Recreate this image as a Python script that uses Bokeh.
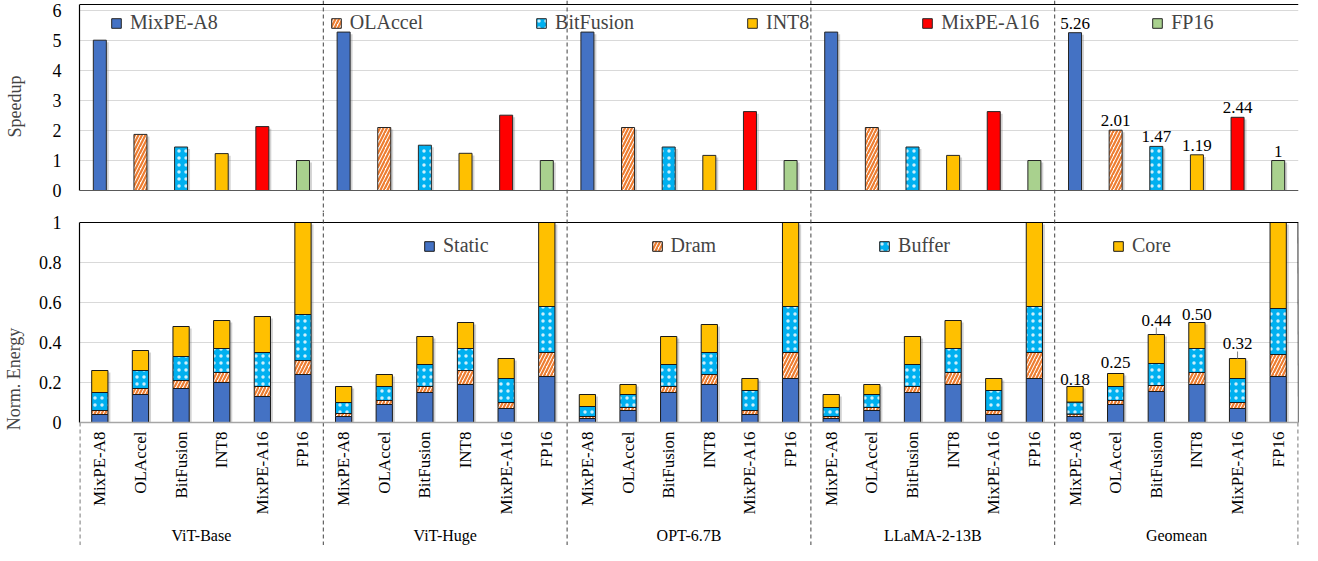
import numpy as np
from bokeh.plotting import figure
from bokeh.models import (FactorRange, Range1d, Span, FixedTicker, Legend, LegendItem,
                          ColumnDataSource)
from bokeh.layouts import column
from bokeh.transform import dodge
from bokeh.embed import file_html
from bokeh.resources import INLINE
from bokeh.core.properties import value

# ---------------- data ----------------
groups = ["ViT-Base", "ViT-Huge", "OPT-6.7B", "LLaMA-2-13B", "Geomean"]
configs = ["MixPE-A8", "OLAccel", "BitFusion", "INT8", "MixPE-A16", "FP16"]

# speedup, one value per group
speedup_mixpe_a8 = [5.01, 5.28, 5.28, 5.28, 5.26]
speedup_olaccel = [1.87, 2.10, 2.10, 2.10, 2.01]
speedup_bitfusion = [1.45, 1.51, 1.45, 1.45, 1.47]
speedup_int8 = [1.23, 1.24, 1.17, 1.17, 1.19]
speedup_mixpe_a16 = [2.13, 2.51, 2.63, 2.63, 2.44]
speedup_fp16 = [1.0, 1.0, 1.0, 1.0, 1.0]
geomean_speedup_labels = ["5.26", "2.01", "1.47", "1.19", "2.44", "1"]

# normalized energy components, group-major (6 configs per group)
energy_static = [0.04, 0.14, 0.17, 0.20, 0.13, 0.24,
                 0.03, 0.09, 0.15, 0.19, 0.07, 0.23,
                 0.02, 0.06, 0.15, 0.19, 0.04, 0.22,
                 0.02, 0.06, 0.15, 0.19, 0.04, 0.22,
                 0.03, 0.09, 0.155, 0.19, 0.07, 0.23]
energy_dram = [0.02, 0.03, 0.04, 0.05, 0.05, 0.07,
               0.015, 0.02, 0.03, 0.07, 0.03, 0.12,
               0.01, 0.015, 0.03, 0.05, 0.02, 0.13,
               0.01, 0.015, 0.03, 0.06, 0.02, 0.13,
               0.012, 0.02, 0.03, 0.06, 0.03, 0.11]
energy_buffer = [0.09, 0.09, 0.12, 0.12, 0.17, 0.23,
                 0.055, 0.07, 0.11, 0.11, 0.12, 0.23,
                 0.05, 0.065, 0.11, 0.11, 0.10, 0.23,
                 0.045, 0.065, 0.11, 0.12, 0.10, 0.23,
                 0.06, 0.07, 0.11, 0.12, 0.12, 0.23]
energy_core = [0.11, 0.10, 0.15, 0.14, 0.18, 0.46,
               0.08, 0.06, 0.14, 0.13, 0.10, 0.42,
               0.06, 0.05, 0.14, 0.14, 0.06, 0.42,
               0.065, 0.05, 0.14, 0.14, 0.06, 0.42,
               0.078, 0.065, 0.145, 0.13, 0.10, 0.43]
geomean_energy_labels = ["0.18", "0.25", "0.44", "0.50", "0.32"]
components = ["Static", "Dram", "Buffer", "Core"]

# ---------------- styles ----------------
FONT = "Liberation Serif"
BLUE, ORANGE, CYAN, GOLD, RED, GREEN = "#4472C4", "#ED7D31", "#00B0F0", "#FFC000", "#FF0000", "#A9D18E"
hatch_style = dict(hatch_pattern="/", hatch_color=ORANGE, hatch_weight=2.2, hatch_scale=7)
dot_style = dict(hatch_pattern=".", hatch_color="white", hatch_weight=0.3, hatch_scale=7,
                 hatch_alpha=0.8)
cfg_styles = [
    dict(fill_color=BLUE),
    dict(fill_color="white", **hatch_style),
    dict(fill_color=CYAN, **dot_style),
    dict(fill_color=GOLD),
    dict(fill_color=RED),
    dict(fill_color=GREEN),
]
comp_styles = [
    dict(fill_color=BLUE),
    dict(fill_color="white", **hatch_style),
    dict(fill_color=CYAN, **dot_style),
    dict(fill_color=GOLD),
]
SHADOW = dict(fill_color="#7F7F7F", fill_alpha=0.35, line_color=None)
energy_label_lift = [-2, -6, -9, -3, -10]
leader_configs = ["BitFusion", "MixPE-A16"]

factors = [(g, c) for g in groups for c in configs]
xr = FactorRange(factors=factors, factor_padding=0, group_padding=0, subgroup_padding=0,
                 range_padding=0)

W = 1300
H_TOP, H_BOT = 212, 333
common = dict(x_range=xr, width=W, output_backend="svg", toolbar_location=None,
              x_axis_location=None, min_border=0, min_border_left=70, min_border_right=2)


def style_axis(p, ticks, bounds, label, standoff):
    ax = p.yaxis[0]
    ax.ticker = FixedTicker(ticks=ticks)
    ax.bounds = bounds
    ax.axis_label = label
    ax.axis_label_text_font = FONT
    ax.axis_label_text_font_size = "18px"
    ax.axis_label_text_font_style = "normal"
    ax.axis_label_standoff = standoff
    ax.major_label_text_font = FONT
    ax.major_label_text_font_size = "18px"
    ax.major_label_text_color = "black"
    ax.major_tick_line_color = None
    ax.minor_tick_line_color = None
    ax.major_label_standoff = 12
    ax.axis_line_color = "black"
    ax.axis_line_width = 1.2
    p.ygrid.ticker = FixedTicker(ticks=ticks)
    p.ygrid.grid_line_color = "#D9D9D9"
    p.ygrid.grid_line_width = 1.2
    p.xgrid.visible = False
    p.outline_line_color = None


def separators(p):
    for k in range(1, len(groups)):
        p.add_layout(Span(location=k * len(configs), dimension="height", line_color="#404040",
                          line_dash="4 3", line_width=1))


# ---------------- top: speedup ----------------
pA = figure(height=H_TOP, y_range=Range1d(-0.733, 6.333), **common)
style_axis(pA, [0, 1, 2, 3, 4, 5, 6], (0, 6.2), "Speedup", 25)
separators(pA)
pA.add_layout(Span(location=6.2, dimension="width", line_color="black", line_width=1.2))

speedups = [speedup_mixpe_a8, speedup_olaccel, speedup_bitfusion, speedup_int8,
            speedup_mixpe_a16, speedup_fp16]
items_a = []
for c, vals, st in zip(configs, speedups, cfg_styles):
    src = ColumnDataSource(dict(x=[(g, c) for g in groups], top=vals,
                                stop=[v - 0.07 for v in vals]))
    pA.vbar(x=dodge("x", 0.06, range=xr), top="stop", bottom=0, width=0.32, source=src,
            **SHADOW)
    r = pA.vbar(x="x", top="top", bottom=0, width=0.32, source=src,
                line_color="#262626", line_width=1, **st)
    items_a.append(LegendItem(label=c, renderers=[r]))
pA.add_layout(Span(location=0, dimension="width", line_color="#595959", line_width=1.2))

gsrc = ColumnDataSource(dict(x=[("Geomean", c) for c in configs],
                             y=[v[-1] for v in speedups], t=geomean_speedup_labels))
pA.text(x="x", y="y", text="t", source=gsrc, text_align="center", text_baseline="bottom",
        y_offset=-4, text_font=value(FONT), text_font_size="17px", text_color="black")

legA = Legend(items=items_a, orientation="horizontal", location=(31, 178), spacing=112,
              glyph_width=12, glyph_height=12, label_standoff=8, padding=0, margin=0,
              label_text_font=FONT, label_text_font_size="20px", background_fill_alpha=0,
              border_line_alpha=0)
pA.add_layout(legA)

# ---------------- bottom: energy ----------------
pB = figure(height=H_BOT, y_range=Range1d(-0.615, 1.05), **common)
style_axis(pB, [0, 0.2, 0.4, 0.6, 0.8, 1.0], (0, 1.0), "Norm. Energy", 12)
separators(pB)

s = np.array(energy_static)
d = np.array(energy_dram)
b = np.array(energy_buffer)
c_ = np.array(energy_core)
levels = [np.zeros_like(s), s, s + d, s + d + b, s + d + b + c_]
esrc = ColumnDataSource(dict(x=factors, l0=levels[0], l1=levels[1], l2=levels[2],
                             l3=levels[3], l4=levels[4], sh=levels[4] - 0.01))
pB.vbar(x=dodge("x", 0.06, range=xr), top="sh", bottom=0, width=0.40, source=esrc, **SHADOW)
items_b = []
for i, (name, st) in enumerate(zip(components, comp_styles)):
    r = pB.vbar(x="x", bottom=f"l{i}", top=f"l{i + 1}", width=0.40, source=esrc,
                line_color="#1a1a1a", line_width=1, **st)
    items_b.append(LegendItem(label=name, renderers=[r]))

pB.add_layout(Span(location=0, dimension="width", line_color="#A6A6A6", line_width=1.5))
n = len(factors)
pB.segment(x0=[0, n], y0=[1.0, 0], x1=[n, n - 0.01], y1=[1.0, 1.0],
           line_color="black", line_width=1.2)
pB.segment(x0=[0.01, n - 0.01], y0=[-0.615, -0.615], x1=[0.01, n - 0.01], y1=[0, 0],
           line_color="#404040", line_dash="4 3", line_width=1)

# geomean energy labels
totals = levels[4]
gi = [factors.index(("Geomean", c)) for c in configs[:len(geomean_energy_labels)]]
lsrc = ColumnDataSource(dict(x=[factors[i] for i in gi], y=[totals[i] for i in gi],
                             t=geomean_energy_labels, off=energy_label_lift))
pB.text(x="x", y="y", text="t", source=lsrc, text_align="center", text_baseline="bottom",
        y_offset="off", text_font=value(FONT), text_font_size="17px", text_color="black")
li = [factors.index(("Geomean", c)) for c in leader_configs]
pB.segment(x0=[factors[i] for i in li], y0=[totals[i] for i in li],
           x1=[factors[i] for i in li], y1=[totals[i] + 0.035 for i in li],
           line_color="#808080", line_width=1)

# category and group labels
csrc = ColumnDataSource(dict(x=factors, y=[-0.045] * n, t=[f[1] for f in factors]))
pB.text(x="x", y="y", text="t", source=csrc, angle=np.pi / 2, text_align="right",
        text_baseline="middle", text_font=value(FONT), text_font_size="17px",
        text_color="black")
grsrc = ColumnDataSource(dict(x=groups, y=[-0.565] * len(groups), t=groups))
pB.text(x="x", y="y", text="t", source=grsrc, text_align="center", text_baseline="middle",
        text_font=value(FONT), text_font_size="16px", text_color="black")

legB = Legend(items=items_b, orientation="horizontal", location=(344, 288), spacing=162,
              glyph_width=12, glyph_height=12, label_standoff=8, padding=0, margin=0,
              label_text_font=FONT, label_text_font_size="20px", background_fill_alpha=0,
              border_line_alpha=0)
pB.add_layout(legB)

layout = column(pA, pB, spacing=0)
open("out.html", "w").write(file_html(layout, INLINE))
